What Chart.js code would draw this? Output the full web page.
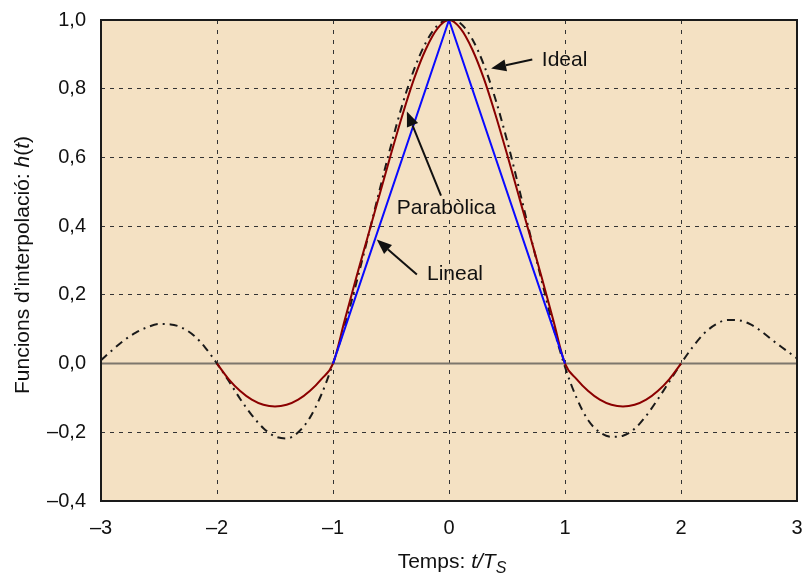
<!DOCTYPE html>
<html>
<head>
<meta charset="utf-8">
<script src="https://cdn.jsdelivr.net/npm/chart.js@4"></script>
<style>
  body { margin: 0; background: #ffffff; }
  canvas { display: block; }
</style>
</head>
<body>
<canvas id="kernelChart" width="802" height="576"></canvas>
<script>
// sample positions (t/Ts) and values
const idealT = [
  -3.0, -2.9, -2.8, -2.7, -2.6, -2.5, -2.4, -2.3, -2.2, -2.1,
  -2.0, -1.9, -1.8, -1.7, -1.6, -1.5, -1.4, -1.3, -1.2, -1.1,
  -1.0, -0.9, -0.8, -0.7, -0.6, -0.5, -0.4, -0.3, -0.2, -0.1,
  0.0, 0.1, 0.2, 0.3, 0.4, 0.5, 0.6, 0.7, 0.8, 0.9,
  1.0, 1.1, 1.2, 1.3, 1.4, 1.5, 1.6, 1.7, 1.8, 1.9,
  2.0, 2.1, 2.2, 2.3, 2.4, 2.5, 2.6, 2.7, 2.8, 2.9, 3.0
];
const idealValues = [
  0.010, 0.040, 0.068, 0.090, 0.106, 0.115, 0.114, 0.104, 0.082, 0.046,
  0.000, -0.050, -0.103, -0.150, -0.188, -0.212, -0.218, -0.200, -0.158, -0.090,
  0.000, 0.108, 0.233, 0.366, 0.503, 0.635, 0.756, 0.857, 0.934, 0.984,
  1.000, 0.990, 0.945, 0.870, 0.770, 0.650, 0.515, 0.375, 0.240, 0.105,
  -0.010, -0.100, -0.165, -0.200, -0.213, -0.210, -0.190, -0.152, -0.104, -0.052,
  0.000, 0.048, 0.088, 0.114, 0.127, 0.126, 0.114, 0.092, 0.065, 0.040, 0.015
];

const parabolicT = [
  -2.0, -1.9, -1.8, -1.7, -1.6, -1.5, -1.4, -1.3, -1.2, -1.1,
  -1.0, -0.9, -0.8, -0.7, -0.6, -0.5, -0.4, -0.3, -0.2, -0.1,
  0.0, 0.1, 0.2, 0.3, 0.4, 0.5, 0.6, 0.7, 0.8, 0.9,
  1.0, 1.1, 1.2, 1.3, 1.4, 1.5, 1.6, 1.7, 1.8, 1.9, 2.0
];
const parabolicValues = [
  0.000, -0.045, -0.080, -0.105, -0.120, -0.125, -0.120, -0.105, -0.080, -0.045,
  0.000, 0.125, 0.250, 0.370, 0.490, 0.610, 0.725, 0.830, 0.915, 0.975,
  1.000, 0.975, 0.915, 0.830, 0.725, 0.610, 0.490, 0.370, 0.250, 0.125,
  0.000, -0.045, -0.080, -0.105, -0.120, -0.125, -0.120, -0.105, -0.080, -0.045, 0.000
];

const linearT = [-1, 0, 1];
const linearValues = [0, 1, 0];

const xTicks = [-3, -2, -1, 0, 1, 2, 3];
const yTicks = [-0.4, -0.2, 0.0, 0.2, 0.4, 0.6, 0.8, 1.0];

// arrow labels, in data coordinates
const notes = [
  { text: 'Ideal',      tx: 0.80,  ty: 0.865, from: [0.718, 0.885],  to: [0.363, 0.859] },
  { text: 'Parabòlica', tx: -0.45, ty: 0.434, from: [-0.069, 0.489], to: [-0.363, 0.734] },
  { text: 'Lineal',     tx: -0.19, ty: 0.242, from: [-0.277, 0.259], to: [-0.623, 0.361] }
];

const FONT = '"Liberation Sans", Arial, Helvetica, sans-serif';

const toPoints = (xs, ys) => xs.map((x, i) => ({ x: x, y: ys[i] }));
const fmtMinus = s => s.replace('-', '\u2013');

// draw a line of text made of several font runs, centred on (cx, cy)
function drawRuns(ctx, runs, cx, cy, angle) {
  ctx.save();
  ctx.translate(cx, cy);
  ctx.rotate(angle);
  let total = 0;
  runs.forEach(r => { ctx.font = r.font; total += ctx.measureText(r.text).width; });
  let x = -total / 2;
  ctx.fillStyle = '#111';
  ctx.textBaseline = 'alphabetic';
  ctx.textAlign = 'left';
  runs.forEach(r => {
    ctx.font = r.font;
    ctx.fillText(r.text, x, r.dy || 0);
    x += ctx.measureText(r.text).width;
  });
  ctx.restore();
}

const framePlugin = {
  id: 'frame',
  beforeDraw(chart) {
    const { ctx, chartArea: a } = chart;
    ctx.save();
    ctx.fillStyle = '#f4e1c3';
    ctx.fillRect(a.left, a.top, a.right - a.left, a.bottom - a.top);
    ctx.restore();
  },
  afterDraw(chart) {
    const { ctx, chartArea: a, scales } = chart;
    ctx.save();
    ctx.strokeStyle = '#1a1a1a';
    ctx.lineWidth = 2;
    ctx.strokeRect(a.left, a.top, a.right - a.left, a.bottom - a.top);

    // arrows + labels
    ctx.fillStyle = '#111';
    ctx.strokeStyle = '#111';
    notes.forEach(n => {
      const x1 = scales.x.getPixelForValue(n.from[0]);
      const y1 = scales.y.getPixelForValue(n.from[1]);
      const x2 = scales.x.getPixelForValue(n.to[0]);
      const y2 = scales.y.getPixelForValue(n.to[1]);
      const ang = Math.atan2(y2 - y1, x2 - x1);
      const head = 15, half = 6;
      const bx = x2 - head * Math.cos(ang), by = y2 - head * Math.sin(ang);
      ctx.lineWidth = 2;
      ctx.beginPath();
      ctx.moveTo(x1, y1);
      ctx.lineTo(bx, by);
      ctx.stroke();
      ctx.beginPath();
      ctx.moveTo(x2, y2);
      ctx.lineTo(bx + half * Math.sin(ang), by - half * Math.cos(ang));
      ctx.lineTo(bx - half * Math.sin(ang), by + half * Math.cos(ang));
      ctx.closePath();
      ctx.fill();

      ctx.font = '21px ' + FONT;
      ctx.textAlign = 'left';
      ctx.textBaseline = 'alphabetic';
      ctx.fillText(n.text, scales.x.getPixelForValue(n.tx), scales.y.getPixelForValue(n.ty));
    });

    // axis titles with italic parts
    const reg = '21px ' + FONT, it = 'italic 21px ' + FONT;
    drawRuns(ctx, [
      { text: 'Temps: ', font: reg },
      { text: 't/T', font: it },
      { text: 'S', font: 'italic 16px ' + FONT, dy: 5 }
    ], 452, 568, 0);
    drawRuns(ctx, [
      { text: 'Funcions d\u2019interpolació: ', font: reg },
      { text: 'h', font: it },
      { text: '(', font: reg },
      { text: 't', font: it },
      { text: ')', font: reg }
    ], 29, 265, -Math.PI / 2);
    ctx.restore();
  }
};

const ctx = document.getElementById('kernelChart').getContext('2d');
new Chart(ctx, {
  type: 'line',
  data: {
    datasets: [
      {
        label: 'zero',
        data: toPoints([xTicks[0], xTicks[xTicks.length - 1]], [0, 0]),
        borderColor: '#7d776d',
        borderWidth: 2,
        pointRadius: 0,
        order: 4
      },
      {
        label: 'Ideal',
        data: toPoints(idealT, idealValues),
        borderColor: '#1a1a1a',
        borderWidth: 2,
        borderDash: [8, 5, 2, 5],
        pointRadius: 0,
        cubicInterpolationMode: 'monotone',
        order: 3
      },
      {
        label: 'Parabòlica',
        data: toPoints(parabolicT, parabolicValues),
        borderColor: '#8b0000',
        borderWidth: 2,
        pointRadius: 0,
        cubicInterpolationMode: 'monotone',
        order: 2
      },
      {
        label: 'Lineal',
        data: toPoints(linearT, linearValues),
        borderColor: '#0a0aff',
        borderWidth: 2,
        pointRadius: 0,
        order: 1
      }
    ]
  },
  options: {
    responsive: false,
    animation: false,
    layout: { padding: { top: 20, right: 5, left: 0, bottom: 0 } },
    plugins: { legend: { display: false }, tooltip: { enabled: false } },
    scales: {
      x: {
        type: 'linear',
        min: -3,
        max: 3,
        afterBuildTicks: axis => { axis.ticks = xTicks.map(v => ({ value: v })); },
        afterFit: axis => {
          axis.height = 75;
          axis.paddingLeft = 0;
          axis.paddingRight = 0;
        },
        grid: {
          color: ctx => (ctx.tick && (ctx.tick.value === -3 || ctx.tick.value === 3)) ? 'rgba(0,0,0,0)' : '#333',
          lineWidth: 1,
          drawTicks: false
        },
        border: { display: false, dash: [4, 6] },
        ticks: {
          padding: 15,
          color: '#111',
          font: { family: FONT, size: 20 },
          maxRotation: 0,
          callback: v => fmtMinus(String(v))
        }
      },
      y: {
        min: -0.4,
        max: 1.0,
        afterBuildTicks: axis => { axis.ticks = yTicks.map(v => ({ value: v })); },
        afterFit: axis => {
          axis.width = 101;
          axis.paddingTop = 0;
          axis.paddingBottom = 0;
        },
        grid: {
          color: ctx => {
            const v = ctx.tick ? Math.round(ctx.tick.value * 10) : null;
            return (v === 0 || v === -4 || v === 10) ? 'rgba(0,0,0,0)' : '#333';
          },
          lineWidth: 1,
          drawTicks: false
        },
        border: { display: false, dash: [4, 5] },
        ticks: {
          padding: 15,
          color: '#111',
          font: { family: FONT, size: 20 },
          callback: v => fmtMinus(v.toFixed(1).replace('.', ','))
        }
      }
    }
  },
  plugins: [framePlugin]
});
</script>
</body>
</html>
